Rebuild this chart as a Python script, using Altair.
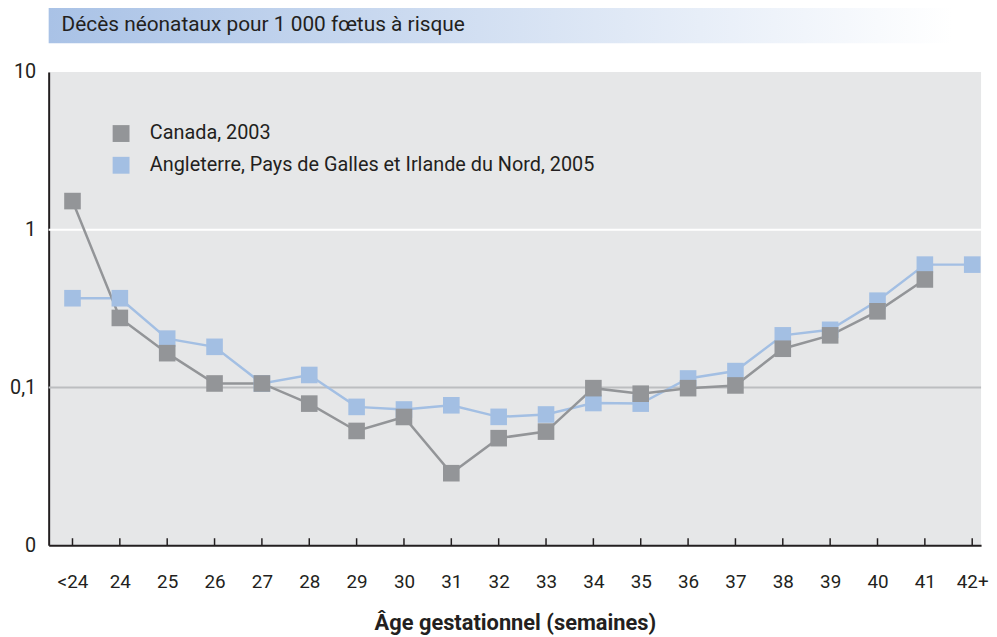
import altair as alt
import pandas as pd

# ---- data ----
categories = ["<24", "24", "25", "26", "27", "28", "29", "30", "31", "32",
              "33", "34", "35", "36", "37", "38", "39", "40", "41", "42+"]
canada = [1.52, 0.276, 0.165, 0.106, 0.106, 0.079, 0.053, 0.065, 0.0286, 0.0477,
          0.0525, 0.099, 0.0913, 0.099, 0.103, 0.176, 0.214, 0.304, 0.484, None]
england = [0.368, 0.368, 0.204, 0.181, 0.106, 0.120, 0.0753, 0.0725, 0.0771, 0.0651,
           0.0674, 0.0797, 0.079, 0.114, 0.127, 0.214, 0.232, 0.355, 0.601, 0.601]
series_names = ["Canada, 2003", "Angleterre, Pays de Galles et Irlande du Nord, 2005"]
series_colors = ["#939598", "#a3bfe3"]
y_tick_values = [0.01, 0.1, 1, 10]
y_tick_labels = ["0", "0,1", "1", "10"]
grid_values = [1, 0.1]
grid_colors = ["#ffffff", "#bcbec0"]
title_text = "Décès néonataux pour 1 000 fœtus à risque"
x_title = "Âge gestationnel (semaines)"

FONT = "Roboto"
W, H = 940, 477

rows = []
for name, vals in [(series_names[1], england), (series_names[0], canada)]:
    for i, (c, v) in enumerate(zip(categories, vals)):
        if v is not None:
            rows.append({"idx": i, "age": c, "v": v, "series": name})
df = pd.DataFrame(rows)

grid_df = pd.DataFrame({"v": grid_values, "c": grid_colors})
tick_df = pd.DataFrame({"idx": list(range(len(categories))), "age": categories})
legend_df = pd.DataFrame({"name": series_names, "color": series_colors})

y_label_expr = " : ".join(
    f"datum.value < {t * 1.5} ? '{l}'" for t, l in zip(y_tick_values[:-1], y_tick_labels[:-1])
) + f" : '{y_tick_labels[-1]}'"
x_label_expr = "[" + ",".join(f"'{c}'" for c in categories) + "][round(datum.value)]"

# category positions: first at 24px from the plot's left edge, step ~47.74px
xscale = alt.Scale(domain=[-0.503, 19.187], nice=False, zero=False)
yscale = alt.Scale(type="log", domain=[0.01, 10], nice=False)

x_axis = alt.Axis(title=x_title, values=list(range(len(categories))),
                  labelExpr=x_label_expr, ticks=False, labelPadding=28,
                  labelFontSize=19, labelFont=FONT, labelColor="#231f20",
                  labelAngle=0, labelFlush=False, labelOverlap=False,
                  domainColor="#231f20", domainWidth=2, titleFont=FONT,
                  titleFontSize=22, titleFontWeight="bold", titleColor="#231f20",
                  titlePadding=21, grid=False)
y_axis = alt.Axis(title=None, values=y_tick_values, labelExpr=y_label_expr, ticks=False,
                  labelPadding=13, labelFontSize=20, labelFont=FONT,
                  labelColor="#231f20", domainColor="#231f20", domainWidth=2,
                  grid=False, minExtent=41, maxExtent=41)

grid = alt.Chart(grid_df).mark_rule(strokeWidth=2).encode(
    y=alt.Y("v:Q", scale=yscale, axis=y_axis),
    color=alt.Color("c:N", scale=None),
)

xticks = alt.Chart(tick_df).mark_rule(color="#231f20", strokeWidth=1.5).encode(
    x=alt.X("idx:Q", scale=xscale, axis=x_axis),
    y=alt.value(H - 7),
    y2=alt.value(H),
)

lines = alt.Chart(df).mark_line(strokeWidth=2.5).encode(
    x=alt.X("idx:Q", scale=xscale),
    y=alt.Y("v:Q", scale=yscale),
    color=alt.Color("series:N", scale=alt.Scale(domain=series_names, range=series_colors),
                    legend=None),
    detail="series:N",
)

points = alt.Chart(df).mark_square(size=280, opacity=1, strokeWidth=0).encode(
    x=alt.X("idx:Q", scale=xscale),
    y=alt.Y("v:Q", scale=yscale),
    color=alt.Color("series:N", scale=alt.Scale(domain=series_names, range=series_colors),
                    legend=None),
)

# legend (inside the plot, top left)
legend_layers = []
for k in range(len(series_names)):
    base = alt.Chart(legend_df).transform_filter(f"datum.name == '{series_names[k]}'")
    legend_layers.append(base.mark_square(size=289, opacity=1, strokeWidth=0).encode(
        x=alt.value(73), y=alt.value(62 + 32 * k),
        color=alt.Color("color:N", scale=None)))
    legend_layers.append(base.mark_text(align="left", baseline="middle", fontSize=20,
                                        font=FONT, color="#231f20").encode(
        x=alt.value(102), y=alt.value(62 + 32 * k), text="name:N"))

band_data = alt.Data(values=[{"k": 1}])
band = alt.Chart(band_data).mark_rect(
    fill=alt.Gradient(gradient="linear",
                      stops=[alt.GradientStop(color="#a9c2e6", offset=0),
                             alt.GradientStop(color="#ffffff", offset=1)],
                      x1=0, x2=1, y1=0, y2=0)
).encode(x=alt.value(0), x2=alt.value(911), y=alt.value(-66), y2=alt.value(-29))

title = alt.Chart(band_data).mark_text(
    align="left", baseline="middle", fontSize=21, font=FONT, color="#231f20"
).encode(x=alt.value(13), y=alt.value(-47), text=alt.value(title_text))

chart = alt.layer(grid, xticks, lines, points, *legend_layers, band, title).properties(
    width=W, height=H, padding={"top": -4, "left": 0, "right": 0, "bottom": 0},
    background="white"
).configure_view(fill="#e6e7e8", strokeWidth=0)

chart.save("out.html", embed_options={"renderer": "svg", "actions": False})
